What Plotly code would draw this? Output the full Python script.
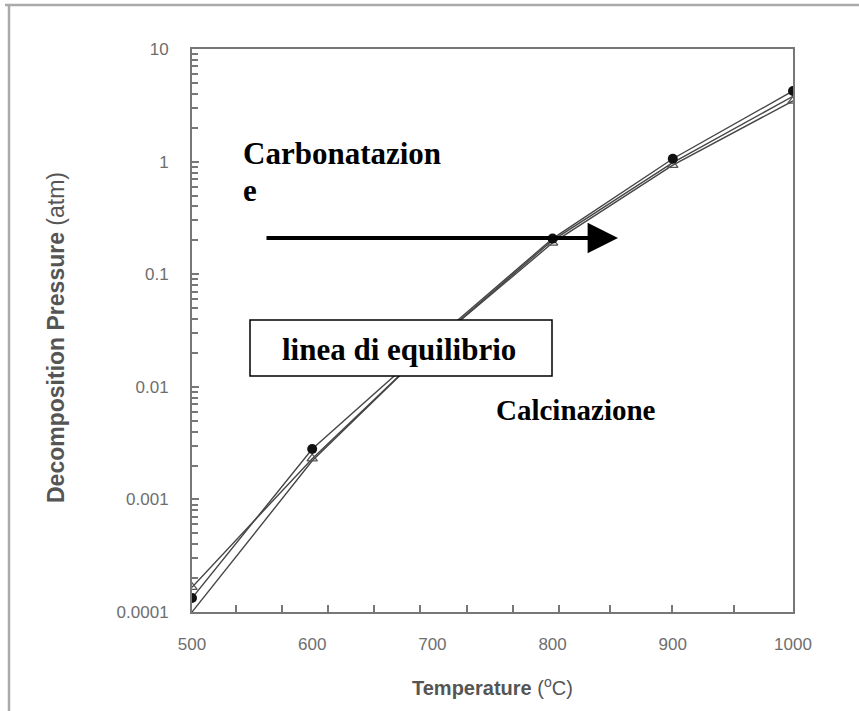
import plotly.graph_objects as go

# ---- data ----
temps = [500, 600, 700, 800, 900, 1000]
p_filled = [1.33e-4, 0.0028, 0.025, 0.207, 1.06, 4.24]
p_triangle = [1.66e-4, 0.0023, 0.024, 0.19, 0.93, 3.46]
p_third = [1.0e-4, 0.0022, 0.024, 0.20, 0.98, 3.8]

x_tick_labels = [500, 600, 700, 800, 900, 1000]
x_minor_ticks = [537, 575, 613, 651, 690, 729, 767, 805, 848, 899, 951]
y_tick_vals = [1e-4, 1e-3, 1e-2, 1e-1, 1, 10]
y_tick_text = ["0.0001", "0.001", "0.01", "0.1", "1", "10"]

W, H = 859, 711
L, R, T, B = 192, 66, 49, 99
PW = W - L - R
PH = H - T - B

def px(xp):
    return (xp - L) / PW

def py(yp):
    return 1 - (yp - T) / PH

fig = go.Figure()

line_col = "#454545"
fig.add_trace(go.Scatter(x=temps, y=p_third, mode="lines",
                         line=dict(color=line_col, width=1.4), showlegend=False))
fig.add_trace(go.Scatter(x=temps, y=p_triangle, mode="lines+markers",
                         line=dict(color=line_col, width=1.4),
                         marker=dict(symbol="triangle-up-open", size=9, color="#555",
                                     line=dict(width=1.3)), showlegend=False))
fig.add_trace(go.Scatter(x=temps, y=p_filled, mode="lines+markers",
                         line=dict(color=line_col, width=1.4),
                         marker=dict(symbol="circle", size=10, color="#111"),
                         showlegend=False))

# minor tick overlay axes
minor_y = []
for d in range(-4, 1):
    for k in range(2, 10):
        minor_y.append(k * 10 ** d)
fig.add_trace(go.Scatter(x=[None], y=[None], xaxis="x2", yaxis="y2", showlegend=False))

sans = "Liberation Sans, Arial, sans-serif"
tickfont = dict(family=sans, size=17, color="#6e6e6e")
axcol = "#777"

fig.update_layout(
    width=W, height=H,
    margin=dict(l=L, r=R, t=T, b=B),
    paper_bgcolor="white", plot_bgcolor="white",
    xaxis=dict(range=[500, 1000], tickvals=x_tick_labels, ticks="",
               showline=True, linecolor=axcol, linewidth=2, mirror=True,
               showgrid=False, zeroline=False, tickfont=tickfont,
               ticklabelstandoff=16),
    yaxis=dict(type="log", range=[-4, 1], tickvals=y_tick_vals, ticktext=y_tick_text,
               ticks="inside", ticklen=7, tickcolor=axcol, tickwidth=1.5,
               showline=True, linecolor=axcol, linewidth=2, mirror=True,
               showgrid=False, zeroline=False, tickfont=tickfont,
               ticklabelstandoff=18),
    xaxis2=dict(range=[500, 1000], overlaying="x", anchor="y", side="bottom",
                tickvals=x_minor_ticks, ticks="inside", ticklen=7, tickcolor=axcol,
                tickwidth=1.5, showticklabels=False, showline=False, showgrid=False,
                zeroline=False),
    yaxis2=dict(type="log", range=[-4, 1], overlaying="y", anchor="x", side="left",
                tickvals=minor_y, ticks="inside", ticklen=6, tickcolor=axcol,
                tickwidth=1.5, showticklabels=False, showline=False, showgrid=False,
                zeroline=False),
)

# axis titles
fig.add_annotation(xref="paper", yref="paper", x=px(492), y=py(701),
                   text="<b>Temperature</b> (<sup>o</sup>C)", showarrow=False,
                   font=dict(family=sans, size=20, color="#555"))
fig.add_annotation(xref="paper", yref="paper", x=px(41), y=py(338),
                   text="<b>Decomposition Pressure</b> (atm)", showarrow=False,
                   textangle=-90, font=dict(family=sans, size=23, color="#555"))

# outer frame (top and left edges)
fig.add_shape(type="line", xref="paper", yref="paper",
              x0=px(5), x1=px(860), y0=py(5), y1=py(5),
              line=dict(color="#aaaaaa", width=2.5))
fig.add_shape(type="line", xref="paper", yref="paper",
              x0=px(9), x1=px(9), y0=py(5), y1=py(712),
              line=dict(color="#aaaaaa", width=2.5))

serif = "Liberation Serif, Times New Roman, serif"
# box
fig.add_shape(type="rect", xref="paper", yref="paper",
              x0=px(250), x1=px(552), y0=py(376), y1=py(320),
              line=dict(color="black", width=1.5), fillcolor="white", layer="above")
fig.add_annotation(xref="paper", yref="paper", x=px(399), y=py(349),
                   text="<b>linea di equilibrio</b>", showarrow=False,
                   font=dict(family=serif, size=31, color="black"))
fig.add_annotation(xref="paper", yref="paper", x=px(241), y=py(134),
                   xanchor="left", text="<b>Carbonatazion</b>", showarrow=False,
                   font=dict(family=serif, size=31, color="black"))
fig.add_annotation(xref="paper", yref="paper", x=px(241), y=py(171),
                   xanchor="left", text="<b>e</b>", showarrow=False,
                   font=dict(family=serif, size=31, color="black"))
fig.add_annotation(xref="paper", yref="paper", x=px(494), y=py(410),
                   xanchor="left", text="<b>Calcinazione</b>", showarrow=False,
                   font=dict(family=serif, size=29, color="black"))

# arrow
fig.add_annotation(xref="paper", yref="paper", x=px(618), y=py(238),
                   axref="pixel", ayref="pixel", ax=-(618 - 265), ay=0,
                   text="", showarrow=True, arrowhead=2, arrowsize=1.6,
                   arrowwidth=3.8, arrowcolor="black")

fig.write_html("out.html", config={"displayModeBar": False},
               post_script="document.body.style.margin='0';")
